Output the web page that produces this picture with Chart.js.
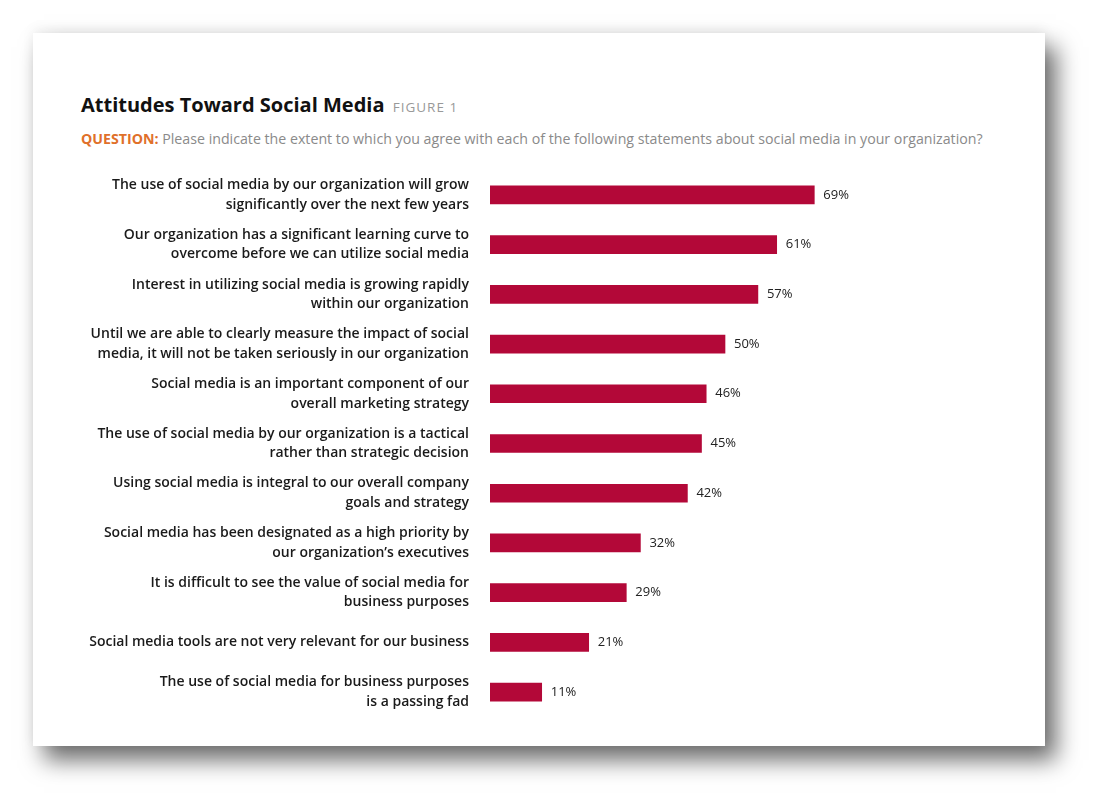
<!DOCTYPE html>
<html>
<head>
<meta charset="utf-8">
<script src="https://cdn.jsdelivr.net/npm/chart.js@4.4.1/dist/chart.umd.min.js"></script>
<style>
  html, body { margin:0; padding:0; background:#fff; width:1110px; height:812px; overflow:hidden; }
  #card { position:absolute; left:33px; top:33px; width:1012px; height:713px; background:#fff;
          box-shadow: 11px 14px 22px rgba(0,0,0,0.58), 0 -4px 12px rgba(0,0,0,0.06); }
  #title { position:absolute; left:48px; top:58px; font-family:"Open Sans", sans-serif; font-weight:700;
           font-size:20px; color:#111; white-space:nowrap; letter-spacing:0px; }
  #title span { font-weight:400; font-size:13.5px; color:#999; letter-spacing:1px; margin-left:3px; }
  #sub { position:absolute; left:48px; top:96px; font-family:"Open Sans", sans-serif; font-size:14.2px;
         color:#8a8a8a; white-space:nowrap; }
  #sub b { color:#e0702a; font-weight:700; }
  #wrap { position:absolute; left:0; top:0; width:1012px; height:713px; }
</style>
</head>
<body>
<div id="card">
  <div id="title">Attitudes Toward Social Media <span>FIGURE 1</span></div>
  <div id="sub"><b>QUESTION:</b> Please indicate the extent to which you agree with each of the following statements about social media in your organization?</div>
  <div id="wrap"><canvas id="c"></canvas></div>
</div>
<script>
const categories = [
  ["The use of social media by our organization will grow", "significantly over the next few years"],
  ["Our organization has a significant learning curve to", "overcome before we can utilize social media"],
  ["Interest in utilizing social media is growing rapidly", "within our organization"],
  ["Until we are able to clearly measure the impact of social", "media, it will not be taken seriously in our organization"],
  ["Social media is an important component of our", "overall marketing strategy"],
  ["The use of social media by our organization is a tactical", "rather than strategic decision"],
  ["Using social media is integral to our overall company", "goals and strategy"],
  ["Social media has been designated as a high priority by", "our organization\u2019s executives"],
  ["It is difficult to see the value of social media for", "business purposes"],
  ["Social media tools are not very relevant for our business"],
  ["The use of social media for business purposes", "is a passing fad"]
];
const values = [69, 61, 57, 50, 46, 45, 42, 32, 29, 21, 11];
const valueLabels = ["69%", "61%", "57%", "50%", "46%", "45%", "42%", "32%", "29%", "21%", "11%"];

const valuePlugin = {
  id: 'valueLabels',
  afterDatasetsDraw(chart) {
    const ctx = chart.ctx;
    const meta = chart.getDatasetMeta(0);
    ctx.save();
    ctx.font = '13px "Open Sans", sans-serif';
    ctx.fillStyle = '#222';
    ctx.textAlign = 'left';
    ctx.textBaseline = 'middle';
    meta.data.forEach((bar, i) => {
      ctx.fillText(valueLabels[i], bar.x + 9, bar.y);
    });
    ctx.restore();
  }
};

new Chart(document.getElementById('c'), {
  type: 'bar',
  data: {
    labels: categories,
    datasets: [{ data: values, backgroundColor: '#b30838', barThickness: 18, borderWidth: 0 }]
  },
  options: {
    indexAxis: 'y',
    responsive: true,
    maintainAspectRatio: false,
    animation: false,
    layout: { padding: { left: 0, top: 137, bottom: 29, right: 85 } },
    plugins: { legend: { display: false }, tooltip: { enabled: false } },
    scales: {
      x: { display: false, min: 0, max: 100 },
      y: {
        grid: { display: false, drawTicks: false },
        border: { display: false },
        afterFit(scale) { scale.width = 457; scale.paddingTop = 0; scale.paddingBottom = 0; },
        ticks: {
          padding: 21,
          color: '#1a1a1a',
          font: { family: '"Open Sans", sans-serif', size: 14, weight: '600', lineHeight: 1.4 }
        }
      }
    }
  },
  plugins: [valuePlugin]
});
</script>
</body>
</html>
